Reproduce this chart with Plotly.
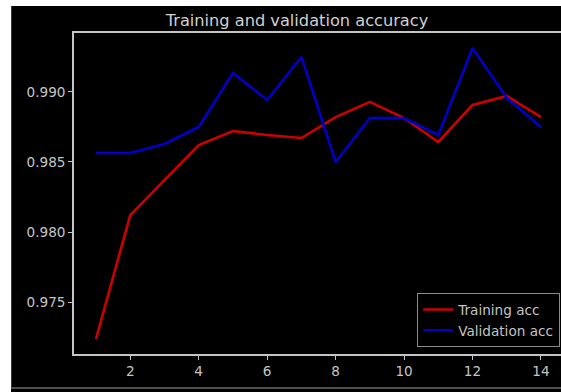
import plotly.graph_objects as go

# Epoch-wise accuracy history
epochs = list(range(1, 15))
train_acc = [0.97236, 0.98121, 0.98371, 0.98621, 0.98721, 0.98693, 0.98671,
             0.98821, 0.98929, 0.98814, 0.98643, 0.98907, 0.98971, 0.98821]
val_acc = [0.98564, 0.98564, 0.98629, 0.98750, 0.99136, 0.98943, 0.99250,
           0.98500, 0.98814, 0.98814, 0.98693, 0.99314, 0.98957, 0.98750]

x_ticks = [2, 4, 6, 8, 10, 12, 14]
y_ticks = [0.975, 0.980, 0.985, 0.990]

W, H = 561, 392
L, R, T, B = 74, 0, 33, 38
pw, ph = W - L - R, H - T - B


def px(xp):
    return (xp - L) / pw


def py(yp):
    return (H - B - yp) / ph


FONT = "DejaVu Sans"
GREY = "#c4c4c4"

fig = go.Figure()
fig.add_trace(go.Scatter(x=epochs, y=train_acc, mode="lines", name="Training acc",
                         line=dict(color="#cc0000", width=2.6)))
fig.add_trace(go.Scatter(x=epochs, y=val_acc, mode="lines", name="Validation acc",
                         line=dict(color="#0000c8", width=2.6)))

# dark canvas behind the axes
fig.add_shape(type="rect", xref="paper", yref="paper", layer="below",
              x0=px(11), x1=px(W + 5), y0=py(H + 5), y1=py(6),
              fillcolor="black", line=dict(width=0))
fig.add_shape(type="line", xref="paper", yref="paper", layer="below",
              x0=px(11), x1=px(W + 5), y0=py(388), y1=py(388),
              line=dict(color="#6a6a6a", width=1.5))
fig.add_shape(type="line", xref="paper", yref="paper", layer="below",
              x0=px(11.5), x1=px(11.5), y0=py(388), y1=py(6),
              line=dict(color="#3a3a3a", width=1))

fig.update_layout(
    width=W, height=H,
    margin=dict(l=L, r=R, t=T, b=B),
    paper_bgcolor="white",
    plot_bgcolor="black",
    font=dict(family=FONT, color=GREY, size=13.6),
    title=dict(text="Training and validation accuracy",
               x=px(297), xref="paper", xanchor="center",
               y=1 - 20 / H, yanchor="middle",
               font=dict(family=FONT, size=16.2, color="#d0d0d0")),
    xaxis=dict(range=[0.357, 14.585], tickvals=x_ticks, showgrid=False,
               zeroline=False, showline=True, linecolor=GREY, linewidth=1.5,
               mirror=True, ticks="outside", ticklen=4, tickcolor=GREY,
               tickfont=dict(size=13.6, color=GREY)),
    yaxis=dict(range=[0.97129, 0.99421], tickvals=y_ticks, tickformat=".3f",
               showgrid=False, zeroline=False, showline=True, linecolor=GREY,
               linewidth=1.5, ticks="outside", ticklen=4, tickcolor=GREY,
               tickfont=dict(size=13.6, color=GREY)),
    legend=dict(x=px(560), y=py(347), xanchor="right", yanchor="bottom",
                bgcolor="black", bordercolor="#8a8a8a", borderwidth=1.2,
                font=dict(size=13.6, color=GREY)),
    showlegend=True,
)

fig.write_html("out.html")
